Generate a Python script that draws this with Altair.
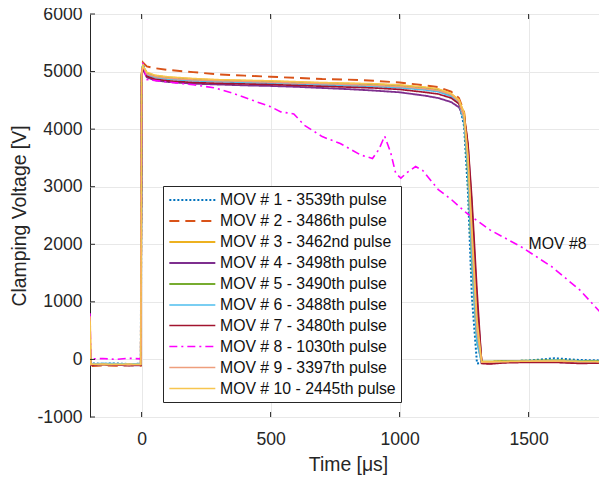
import altair as alt
import pandas as pd

FONT = "Liberation Sans"
INK = "#262626"

labels = [
    "MOV # 1 - 3539th pulse", "MOV # 2 - 3486th pulse", "MOV # 3 - 3462nd pulse",
    "MOV # 4 - 3498th pulse", "MOV # 5 - 3490th pulse", "MOV # 6 - 3488th pulse",
    "MOV # 7 - 3480th pulse", "MOV # 8 - 1030th pulse", "MOV # 9 - 3397th pulse",
    "MOV # 10 - 2445th pulse",
]
colors = ["#0072BD", "#D95319", "#EDB120", "#7E2F8E", "#77AC30", "#4DBEEE",
          "#A2142F", "#FF00FF", "#EE9E7C", "#F7C54F"]
dashes = [[2, 2], [10, 6], [1, 0], [1, 0], [1, 0], [1, 0], [1, 0], [8, 4, 2, 4], [1, 0], [1, 0]]
widths = [2.0, 1.5, 1.0, 1.0, 1.0, 1.0, 1.0, 1.6, 1.4, 1.4]

# common time base (microseconds)
T = [-200, -197, -190, -150, -100, -50, -3, 0, 5, 20, 50, 100, 200, 300, 400, 500,
     600, 700, 800, 900, 1000, 1100, 1150, 1200, 1230, 1250, 1265, 1280, 1300, 1318,
     1350, 1400, 1500, 1600, 1700, 1800]

V1 = [250, -60, -70, -75, -70, -80, -75, 4950, 5120, 4960, 4910, 4880, 4855, 4840, 4825, 4810,
      4800, 4785, 4770, 4760, 4740, 4700, 4670, 4590, 4460, 4050, 2900, 1100, -70, -60,
      -45, -35, -20, 20, -10, -20]
V2 = [150, -110, -115, -105, -110, -100, -110, 4950, 5160, 5090, 5060, 5030, 4990, 4950, 4930, 4910,
      4890, 4870, 4860, 4840, 4810, 4760, 4730, 4650, 4540, 4300, 3650, 2450, 850, -50,
      -50, -40, -40, -30, -45, -40]
V3 = [700, -90, -95, -90, -95, -90, -95, 4950, 5080, 4980, 4930, 4900, 4870, 4850, 4840, 4830,
      4815, 4800, 4790, 4780, 4760, 4720, 4690, 4610, 4500, 4280, 3600, 2400, 800, -40,
      -40, -30, -30, -20, -30, -30]
V4 = [100, -100, -95, -100, -95, -105, -100, 4900, 5050, 4900, 4850, 4820, 4790, 4775, 4760, 4750,
      4735, 4715, 4695, 4670, 4640, 4580, 4540, 4470, 4380, 4200, 3700, 2650, 1000, -60,
      -70, -50, -40, -45, -60, -50]
V5 = [300, -85, -90, -95, -90, -85, -90, 4950, 5100, 4970, 4920, 4890, 4860, 4845, 4830, 4820,
      4805, 4790, 4780, 4765, 4745, 4710, 4680, 4590, 4470, 4150, 3200, 1700, 300, -40,
      -40, -30, -20, -15, -25, -30]
V6 = [200, -75, -80, -70, -75, -80, -75, 4940, 5080, 4950, 4900, 4870, 4840, 4825, 4810, 4800,
      4785, 4770, 4755, 4740, 4720, 4680, 4650, 4570, 4450, 4150, 3300, 1800, 300, -60,
      -50, -40, -30, -20, -35, -40]
V7 = [150, -95, -100, -90, -100, -95, -100, 4920, 5060, 4920, 4870, 4840, 4810, 4795, 4785, 4775,
      4760, 4745, 4730, 4715, 4690, 4640, 4610, 4540, 4440, 4250, 3750, 2800, 1200, -70,
      -80, -60, -50, -50, -70, -60]
V9 = [600, -90, -85, -95, -90, -95, -90, 4950, 5100, 4960, 4915, 4885, 4855, 4840, 4830, 4815,
      4800, 4790, 4775, 4760, 4740, 4700, 4670, 4600, 4480, 4200, 3450, 2100, 500, -50,
      -50, -40, -30, -30, -40, -40]
V10 = [750, -80, -85, -80, -85, -80, -85, 4960, 5100, 4990, 4940, 4910, 4880, 4860, 4850, 4840,
       4825, 4810, 4800, 4790, 4770, 4730, 4700, 4620, 4510, 4280, 3550, 2300, 700, -40,
       -40, -35, -30, -25, -35, -40]

# MOV #8 has its own time base
T8 = [-200, -197, -190, -150, -100, -50, -3, 0, 5, 20, 100, 200, 280, 350, 430, 500,
      540, 590, 630, 700, 770, 850, 895, 920, 942, 965, 985, 1005, 1030, 1062, 1090,
      1150, 1200, 1260, 1350, 1470, 1590, 1700, 1800]
V8 = [800, 20, 10, 15, 0, 20, 10, 4900, 5150, 4860, 4820, 4770, 4720, 4630, 4500, 4390,
      4300, 4265, 4070, 3870, 3750, 3550, 3490, 3650, 3880, 3600, 3230, 3150, 3250, 3350, 3280,
      2950, 2780, 2540, 2250, 1960, 1610, 1200, 710]

x_ticks = [0, 500, 1000, 1500]
y_ticks = [-1000, 0, 1000, 2000, 3000, 4000, 5000, 6000]

series = [(T, V1), (T, V2), (T, V3), (T, V4), (T, V5), (T, V6), (T, V7),
          (T8, V8), (T, V9), (T, V10)]
rows = []
for k, (tt, vv) in enumerate(series):
    for i, (a, b) in enumerate(zip(tt, vv)):
        rows.append({"series": labels[k], "t": a, "v": b, "i": i, "k": k})
df = pd.DataFrame(rows)

W, H = 516, 403
xs = alt.Scale(domain=[-200, 1800], nice=False, zero=False)
ys = alt.Scale(domain=[-1000, 6000], nice=False, zero=False)

leg = alt.Legend(
    orient="none", legendX=73, legendY=172, title=None,
    symbolType="M-1,0H5", symbolSize=235, labelFontSize=15.8, labelFont=FONT,
    labelColor="#111111", strokeColor=INK, fillColor="white", padding=5,
    rowPadding=4.0, labelOffset=34, labelLimit=400, cornerRadius=0,
)

lines = alt.Chart(df).mark_line(clip=True).encode(
    x=alt.X("t:Q", scale=xs, title="Time [μs]",
            axis=alt.Axis(values=x_ticks, grid=True, labelPadding=13, titlePadding=8,
                          labelExpr="'' + datum.value")),
    y=alt.Y("v:Q", scale=ys, title="Clamping Voltage [V]",
            axis=alt.Axis(values=y_ticks, grid=True, labelPadding=8, titlePadding=8,
                          labelExpr="'' + datum.value")),
    color=alt.Color("series:N", scale=alt.Scale(domain=labels, range=colors), legend=leg),
    strokeDash=alt.StrokeDash("series:N", scale=alt.Scale(domain=labels, range=dashes), legend=leg),
    strokeWidth=alt.StrokeWidth("series:N", scale=alt.Scale(domain=labels, range=widths), legend=leg),
    order="i:Q",
)

label_df = pd.DataFrame({"t": [1500], "v": [2000], "txt": ["MOV #8"]})
note = alt.Chart(label_df).mark_text(align="left", baseline="middle", fontSize=15.8,
                                     font=FONT, color="#111111").encode(
    x="t:Q", y="v:Q", text="txt:N")

xt = pd.DataFrame({"t": x_ticks})
yt = pd.DataFrame({"v": y_ticks})
tick_style = dict(color=INK, strokeWidth=1)
tb = alt.Chart(xt).mark_rule(**tick_style).encode(x="t:Q", y=alt.value(H), y2=alt.value(H - 5))
tt_ = alt.Chart(xt).mark_rule(**tick_style).encode(x="t:Q", y=alt.value(0), y2=alt.value(5))
tl = alt.Chart(yt).mark_rule(**tick_style).encode(y="v:Q", x=alt.value(0), x2=alt.value(5))
tr = alt.Chart(yt).mark_rule(**tick_style).encode(y="v:Q", x=alt.value(W), x2=alt.value(W - 5))

chart = alt.layer(lines, note, tb, tt_, tl, tr).properties(
    width=W, height=H,
    autosize=alt.AutoSizeParams(type="none"),
    padding={"left": 82, "top": 6, "right": -7, "bottom": 60},
    background="white",
).configure_view(stroke=INK, strokeWidth=1).configure_axis(
    labelFont=FONT, titleFont=FONT, labelFontSize=17.6, titleFontSize=19.4,
    labelColor=INK, titleColor=INK, titleFontWeight="normal", ticks=False, tickSize=0,
    domain=False, gridColor="#e8e8e8", gridWidth=1, labelFlush=False,
)

chart.save("out.html", embed_options={"renderer": "svg", "actions": False})
